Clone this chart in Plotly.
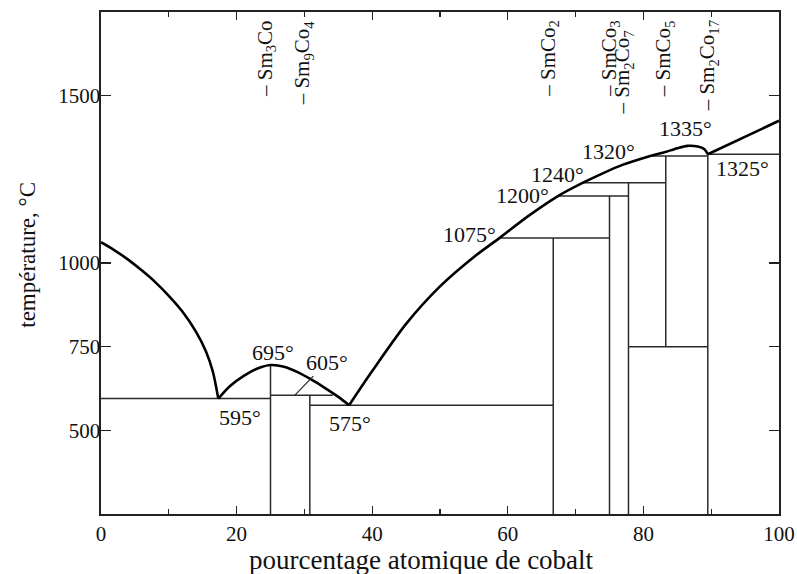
import plotly.graph_objects as go

# ---------------- data ----------------
# liquidus, in pieces between invariant points
liq_A_x = [0, 2, 4, 6, 8, 10, 12, 14, 15.5, 16.5, 17.3]
liq_A_T = [1062, 1038, 1010, 978, 943, 902, 855, 795, 735, 675, 595]
liq_B_x = [17.3, 19, 21, 23, 25, 27, 29, 31, 33, 35, 36.6]
liq_B_T = [595, 632, 662, 684, 695, 690, 674, 652, 627, 600, 575]
liq_C_x = [36.6, 40, 45, 50, 55, 58.8, 63, 67.4, 71.1, 74, 77, 81]
liq_C_T = [575, 677, 818, 930, 1018, 1075, 1140, 1200, 1240, 1268, 1294, 1320]
liq_D_x = [81, 83, 85, 86.5, 88, 89, 89.5]
liq_D_T = [1320, 1330, 1343, 1350, 1348, 1340, 1325]
liq_E_x = [89.5, 100]
liq_E_T = [1325, 1425]

# intermetallic compounds: name, at.% Co, lower and upper end of the line
compound_names = ["Sm<sub>3</sub>Co", "Sm<sub>9</sub>Co<sub>4</sub>", "SmCo<sub>2</sub>",
                  "SmCo<sub>3</sub>", "Sm<sub>2</sub>Co<sub>7</sub>", "SmCo<sub>5</sub>",
                  "Sm<sub>2</sub>Co<sub>17</sub>"]
compound_x = [25, 30.8, 66.7, 75, 77.8, 83.3, 89.5]
compound_Tlow = [250, 250, 250, 250, 250, 750, 250]
compound_Thigh = [695, 605, 1075, 1200, 1240, 1320, 1325]

# invariant horizontals: temperature, left end, right end
inv_T = [595, 605, 575, 1075, 1200, 1240, 1320, 1325, 750]
inv_x0 = [0, 25, 30.8, 58.8, 67.4, 71.1, 81, 89.5, 77.8]
inv_x1 = [25, 34.2, 66.7, 75, 77.8, 83.3, 89.5, 100, 89.5]

# labelled invariant points
label_T = [595, 695, 605, 575, 1075, 1200, 1240, 1320, 1335, 1325]
label_x = [17.3, 25, 28.6, 36.6, 58.8, 67.4, 71.1, 81, 86.5, 89.5]
label_Ty = [595, 695, 605, 575, 1075, 1200, 1240, 1320, 1350, 1325]

x_ticks = [0, 20, 40, 60, 80, 100]
y_ticks = [500, 750, 1000, 1500]

# ---------------- styles / positions ----------------
FONT = "Liberation Serif, Times New Roman, serif"
label_shift = [(22, -19), (2, 13), (32, -33), (1, -18), (-30, 3), (-35, 1),
               (-26, 8), (-42, 4), (-2, 17), (35, -14)]
comp_xshift = [-5, -7, -5, 0, -5, -2, 0]
comp_yshift = [0, 0, 0, 0, -10, 0, 0]

fig = go.Figure()

thin = dict(color="#2a2a2a", width=1.5)
for x, t0, t1 in zip(compound_x, compound_Tlow, compound_Thigh):
    fig.add_trace(go.Scatter(x=[x, x], y=[t0, t1], mode="lines", line=thin,
                             hoverinfo="skip", showlegend=False))
for t, a, b in zip(inv_T, inv_x0, inv_x1):
    fig.add_trace(go.Scatter(x=[a, b], y=[t, t], mode="lines", line=thin,
                             hoverinfo="skip", showlegend=False))

for xs, ts in [(liq_A_x, liq_A_T), (liq_B_x, liq_B_T), (liq_C_x, liq_C_T),
               (liq_D_x, liq_D_T), (liq_E_x, liq_E_T)]:
    fig.add_trace(go.Scatter(x=xs, y=ts, mode="lines",
                             line=dict(color="black", width=2.6, shape="spline", smoothing=0.8),
                             hoverinfo="skip", showlegend=False))

for i, (t, x, ty) in enumerate(zip(label_T, label_x, label_Ty)):
    dx, dy = label_shift[i]
    if t == 605:
        fig.add_annotation(x=x, y=ty, text=f"{t}°", showarrow=True, arrowhead=0,
                           arrowwidth=1.2, arrowcolor="#2a2a2a", ax=dx, ay=dy,
                           font=dict(family=FONT, size=22, color="#111"))
    else:
        fig.add_annotation(x=x, y=ty, text=f"{t}°", showarrow=False,
                           xshift=dx, yshift=dy,
                           font=dict(family=FONT, size=22, color="#111"))

for i, (name, x) in enumerate(zip(compound_names, compound_x)):
    fig.add_annotation(x=x, y=1, xref="x", yref="paper", text="– " + name,
                       textangle=-90, showarrow=False, xanchor="center", yanchor="top",
                       xshift=comp_xshift[i], yshift=-6 + comp_yshift[i],
                       font=dict(family=FONT, size=21, color="#111"))

# axis titles
fig.add_annotation(x=0.473, y=-0.092, xref="paper", yref="paper",
                   text="pourcentage atomique de cobalt", showarrow=False,
                   xanchor="center", yanchor="middle",
                   font=dict(family=FONT, size=27, color="#111"))
fig.add_annotation(x=-0.108, y=0.516, xref="paper", yref="paper",
                   text="température, °C", showarrow=False, textangle=-90,
                   xanchor="center", yanchor="middle",
                   font=dict(family=FONT, size=23, color="#111"))

fig.update_xaxes(range=[0, 100], tickvals=x_ticks, ticks="inside", ticklen=8,
                 tickwidth=1.3, tickcolor="#222", showline=True, linecolor="#222",
                 linewidth=1.6, mirror="ticks", showgrid=False, zeroline=False,
                 automargin=False,
                 minor=dict(dtick=10, ticks="inside", ticklen=5, tickcolor="#222"),
                 tickfont=dict(family=FONT, size=21, color="#111"))
fig.update_yaxes(range=[250, 1750], tickvals=y_ticks, ticks="inside", ticklen=10,
                 tickwidth=1.3, tickcolor="#222", showline=True, linecolor="#222",
                 linewidth=1.6, mirror="ticks", showgrid=False, zeroline=False,
                 automargin=False, ticklabelstandoff=-5,
                 tickfont=dict(family=FONT, size=21, color="#111"))

fig.update_layout(width=797, height=574, margin=dict(l=101, r=18, t=12, b=60),
                  plot_bgcolor="white", paper_bgcolor="white")

# remove the default 8 px page margin so the figure fills the window exactly
fig.write_html("out.html",
               config={"displayModeBar": False, "staticPlot": True},
               post_script="document.body.style.margin='0px';"
                           "document.body.style.overflow='hidden';")
